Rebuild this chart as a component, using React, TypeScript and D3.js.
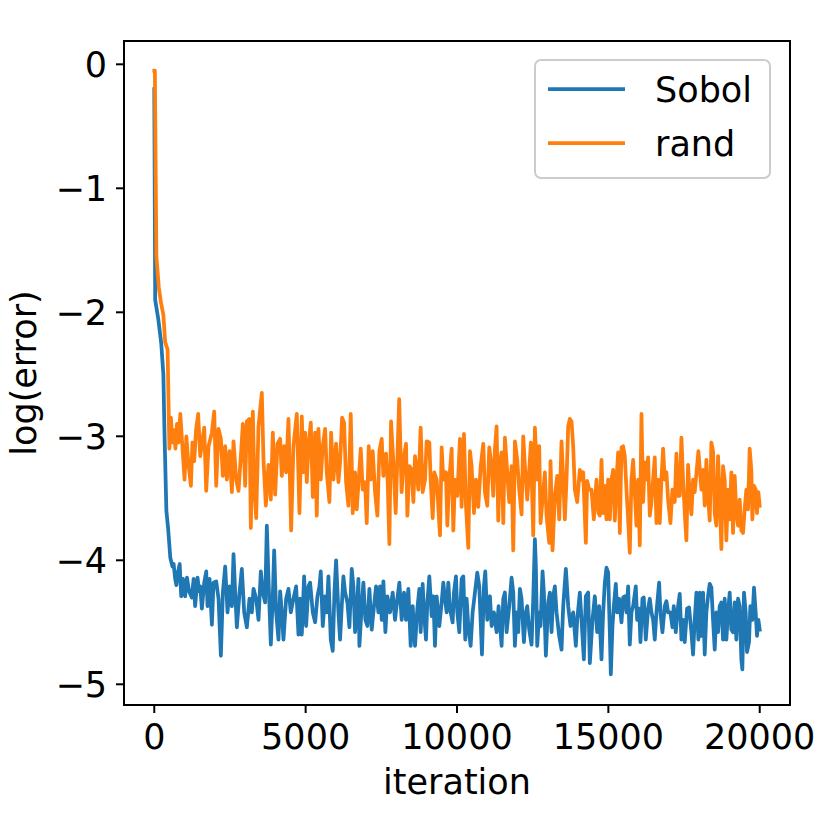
import React from 'react';
import * as d3 from 'd3';

// [iteration, log(error)]
const sobol: [number, number][] = [
  [0,-0.20],[30,-1.90],[130,-2.05],[230,-2.25],[300,-2.50],[340,-3.00],[400,-3.60],[460,-3.75],[530,-3.98],[600,-4.05],
  [640,-4.03],[690,-4.15],[730,-4.20],[780,-4.10],[840,-4.03],[890,-4.29],[950,-4.15],[1020,-4.29],[1080,-4.14],[1150,-4.25],
  [1240,-4.30],[1300,-4.15],[1350,-4.37],[1430,-4.14],[1480,-4.25],
  [1518,-4.21],[1573,-4.39],[1650,-4.18],[1716,-4.09],[1760,-4.37],[1826,-4.15],[1903,-4.52],[1958,-4.18],[2046,-4.17],[2123,-4.31],
  [2200,-4.77],[2266,-4.26],[2343,-4.05],[2420,-4.42],[2486,-4.21],[2563,-4.37],[2618,-3.95],[2673,-4.26],[2728,-4.54],[2816,-4.26],
  [2893,-4.07],[2970,-4.42],[3058,-4.54],[3146,-4.31],[3223,-4.42],[3278,-4.23],[3366,-4.31],[3443,-4.48],[3520,-4.09],[3586,-4.26],
  [3663,-4.34],[3718,-3.72],[3773,-4.15],[3850,-4.68],[3916,-4.29],[3960,-3.92],[4026,-4.42],[4103,-4.64],[4158,-4.25],[4213,-4.42],
  [4268,-4.64],[4356,-4.31],[4433,-4.23],[4510,-4.42],[4598,-4.31],[4686,-4.21],[4763,-4.60],
  [4818,-4.31],[4873,-4.60],[4950,-4.13],[5016,-4.53],[5093,-4.21],[5148,-4.18],[5236,-4.42],[5313,-4.50],[5390,-4.29],[5456,-4.21],
  [5500,-4.09],[5566,-4.53],[5643,-4.29],[5698,-4.42],[5753,-4.13],[5830,-4.64],[5896,-4.73],[5951,-4.26],[6006,-4.00],[6083,-4.42],
  [6138,-4.64],[6193,-4.37],[6248,-4.13],[6303,-4.26],[6380,-4.34],[6446,-4.54],[6523,-4.07],[6578,-4.21],[6633,-4.58],[6688,-4.42],
  [6743,-4.15],[6776,-4.69],[6853,-4.37],[6908,-4.18],[6974,-4.48],[7040,-4.53],[7106,-4.23],[7183,-4.56],[7238,-4.42],[7326,-4.21],
  [7403,-4.42],[7458,-4.21],[7513,-4.48],[7568,-4.17],[7634,-4.58],[7700,-4.29],[7788,-4.42],[7876,-4.26],[7953,-4.48],[8030,-4.31],
  [8096,-4.18],[8173,-4.48],[8250,-4.26],[8316,-4.48],[8393,-4.23],[8470,-4.69],[8536,-4.37],[8613,-4.69],[8690,-4.39],[8756,-4.23],
  [8800,-4.58],[8866,-4.19],[8910,-4.42],[8976,-4.64],[9020,-4.34],[9086,-4.13],[9163,-4.45],[9218,-4.29],[9273,-4.69],[9328,-4.29],
  [9416,-4.53],[9493,-4.34],[9548,-4.18],[9603,-4.31],[9658,-4.42],[9713,-4.18],[9768,-4.39],[9856,-4.50],[9900,-4.26],[9966,-4.13],
  [10010,-4.42],[10076,-4.58],[10153,-4.15],[10208,-4.13],[10274,-4.64],[10318,-4.31],[10373,-4.53],[10450,-4.69],[10516,-4.42],[10593,-4.26],
  [10670,-4.10],[10736,-4.21],[10780,-4.48],[10824,-4.76],[10890,-4.21],[10934,-4.09],[11000,-4.48],[11088,-4.29],[11143,-4.53],[11220,-4.42],
  [11308,-4.58],[11374,-4.37],[11473,-4.69],[11528,-4.31],[11583,-4.26],[11638,-4.58],[11726,-4.37],[11803,-4.14],[11858,-4.26],[11913,-4.69],
  [11968,-4.42],[12023,-4.58],[12078,-4.23],[12133,-4.31],[12210,-4.66],[12276,-4.42],[12320,-4.37],[12386,-4.56],[12463,-4.68],[12518,-4.31],
  [12573,-3.83],[12606,-4.05],[12650,-4.69],[12716,-4.42],[12760,-4.53],[12826,-4.09],[12870,-4.26],[12936,-4.77],[13013,-4.34],[13068,-4.26],
  [13123,-4.58],[13178,-4.29],[13233,-4.21],[13288,-4.42],[13376,-4.61],[13453,-4.72],[13508,-4.37],[13596,-4.07],[13673,-4.37],[13750,-4.53],
  [13838,-4.42],[13926,-4.69],[13970,-4.48],[14058,-4.26],[14113,-4.48],[14190,-4.80],[14256,-4.29],[14333,-4.26],[14388,-4.83],[14476,-4.48],
  [14553,-4.29],[14630,-4.58],[14696,-4.37],[14773,-4.80],[14828,-4.42],[14883,-4.18],[14938,-4.06],[14993,-4.10],[15048,-4.58],[15081,-4.92],
  [15136,-4.53],[15180,-4.37],[15246,-4.19],[15290,-4.42],[15356,-4.31],[15433,-4.50],[15488,-4.30],[15543,-4.29],[15598,-4.42],[15653,-4.21],
  [15708,-4.68],[15763,-4.42],[15818,-4.37],[15906,-4.21],[15950,-4.48],[16016,-4.39],[16060,-4.66],[16126,-4.31],[16170,-4.30],[16236,-4.64],
  [16313,-4.39],[16368,-4.31],[16423,-4.42],[16478,-4.48],[16533,-4.64],[16588,-4.42],[16676,-4.18],[16720,-4.42],[16786,-4.58],[16863,-4.37],
  [16918,-4.33],[16973,-4.42],[17050,-4.42],[17116,-4.54],[17160,-4.37],[17226,-4.58],[17303,-4.37],[17358,-4.27],[17413,-4.64],[17468,-4.48],
  [17523,-4.66],[17600,-4.39],[17666,-4.38],[17743,-4.58],[17798,-4.76],[17853,-4.48],[17908,-4.26],[17974,-4.64],[18018,-4.26],[18073,-4.61],
  [18128,-4.26],[18183,-4.76],[18238,-4.42],[18293,-4.29],[18348,-4.19],[18403,-4.22],[18458,-4.48],[18513,-4.72],[18568,-4.42],[18623,-4.58],
  [18678,-4.37],[18733,-4.34],[18788,-4.64],[18843,-4.31],[18898,-4.64],[18953,-4.42],[19008,-4.26],[19063,-4.56],[19118,-4.58],[19173,-4.34],
  [19228,-4.64],[19283,-4.31],[19338,-4.37],[19393,-4.80],[19426,-4.88],[19481,-4.26],[19536,-4.42],[19580,-4.74],[19646,-4.66],[19690,-4.37],
  [19756,-4.48],[19811,-4.22],[19866,-4.42],[19910,-4.61],[19954,-4.48],[20000,-4.56],
];

const rand: [number, number][] = [
  [0,-0.05],[20,-0.05],[70,-1.55],[150,-1.80],[220,-1.92],[300,-2.02],[360,-2.24],[440,-2.30],[480,-2.85],[500,-3.10],
  [550,-2.85],[600,-3.05],[650,-2.95],[700,-3.10],[750,-2.90],[800,-3.05],[860,-2.82],[920,-3.05],[1000,-3.35],[1060,-3.00],
  [1120,-3.20],[1210,-3.40],[1260,-3.05],[1320,-3.20],[1380,-2.95],[1450,-2.82],
  [1518,-3.16],[1650,-2.93],[1716,-3.44],[1793,-3.08],[1903,-2.97],[1980,-2.80],[2046,-3.40],[2123,-2.94],[2200,-3.02],[2266,-3.32],
  [2343,-3.08],[2398,-3.35],[2486,-3.12],[2563,-3.45],[2618,-3.04],[2706,-3.35],[2783,-3.44],[2860,-3.16],[2926,-2.90],[3003,-3.40],
  [3058,-2.88],[3146,-2.86],[3190,-3.74],[3256,-2.80],[3311,-3.43],[3366,-3.66],[3443,-2.92],[3553,-2.65],[3608,-3.19],[3685,-3.56],
  [3773,-3.23],[3850,-3.51],[3916,-2.97],[3993,-3.47],[4070,-3.06],[4158,-3.02],[4213,-3.32],[4290,-3.08],[4356,-3.29],[4433,-2.86],
  [4521,-3.76],[4598,-3.08],[4708,-2.82],[4796,-3.62],
  [4873,-2.84],[4928,-3.29],[4983,-2.97],[5038,-3.37],[5093,-3.08],[5170,-2.89],[5236,-3.49],[5313,-2.97],[5368,-3.64],[5423,-2.94],
  [5500,-3.35],[5566,-3.08],[5643,-2.94],[5698,-3.29],[5786,-3.53],[5841,-2.97],[5918,-3.35],[6006,-3.06],[6083,-3.37],[6138,-3.21],
  [6204,-2.85],[6270,-2.89],[6336,-3.37],[6413,-3.56],[6490,-2.82],[6556,-3.62],[6633,-3.29],[6688,-3.59],[6754,-3.35],[6820,-3.10],
  [6886,-3.43],[6963,-3.37],[7018,-3.70],[7084,-3.08],[7150,-3.35],[7216,-3.12],[7293,-3.45],[7370,-3.64],[7436,-3.12],[7513,-3.02],
  [7568,-3.32],[7656,-3.14],[7711,-3.37],[7766,-3.87],[7821,-2.88],[7898,-3.21],[7975,-3.62],[8090,-2.70],[8170,-3.45],
  [8250,-3.16],[8316,-3.06],[8360,-3.64],[8426,-3.24],[8503,-3.27],[8558,-3.53],[8613,-3.16],[8668,-3.27],[8723,-3.43],[8800,-2.93],
  [8866,-3.45],[8943,-3.35],[8998,-3.04],[9086,-3.05],[9130,-3.35],[9196,-3.66],[9251,-3.29],[9328,-3.35],[9438,-3.80],[9493,-3.09],
  [9548,-3.35],[9636,-3.29],[9680,-3.72],[9746,-3.35],[9823,-3.10],[9878,-3.76],[9933,-3.35],[10010,-3.48],[10098,-3.02],[10153,-3.57],
  [10230,-2.98],[10296,-3.56],[10373,-3.90],[10428,-3.12],[10483,-3.24],[10560,-3.62],[10626,-3.35],[10703,-3.57],[10780,-3.25],[10868,-3.06],
  [10923,-3.45],[11000,-3.56],[11066,-3.09],[11143,-3.24],[11198,-3.48],[11253,-3.10],[11308,-2.92],[11363,-3.68],[11418,-3.21],
  [11473,-3.13],[11528,-3.70],[11583,-3.01],[11660,-3.29],[11726,-3.53],[11803,-3.24],[11858,-3.92],[11913,-3.04],[11990,-3.19],[12056,-3.43],
  [12133,-3.63],[12188,-3.00],[12243,-3.24],[12320,-3.51],[12386,-3.27],[12441,-3.05],[12518,-3.80],[12573,-2.93],[12650,-3.35],[12716,-3.08],
  [12760,-3.70],[12826,-3.51],[12903,-3.29],[12958,-3.64],[13046,-3.86],[13090,-3.20],[13156,-3.92],[13233,-3.48],[13310,-3.32],[13376,-3.67],
  [13453,-3.04],[13508,-3.35],[13563,-3.67],[13618,-3.35],[13673,-2.92],[13728,-2.86],[13783,-2.88],[13838,-3.08],[13893,-3.43],[13970,-3.53],
  [14058,-3.27],[14113,-3.35],[14168,-3.29],[14256,-3.86],[14300,-3.36],[14366,-3.43],[14443,-3.43],[14520,-3.67],[14608,-3.35],[14674,-3.62],
  [14718,-3.64],[14773,-3.19],[14828,-3.62],[14883,-3.40],[14938,-3.67],[14993,-3.35],[15048,-3.67],[15103,-3.35],[15158,-3.27],[15213,-3.68],
  [15268,-3.35],[15323,-3.13],[15378,-3.78],[15433,-3.09],[15488,-3.08],[15543,-3.16],[15598,-3.43],[15653,-3.67],[15708,-3.94],[15763,-3.35],
  [15818,-3.19],[15873,-3.45],[15928,-3.72],[15983,-3.35],[16038,-3.88],[16093,-2.82],[16148,-3.53],[16203,-3.21],[16258,-3.35],[16313,-3.17],
  [16368,-3.64],[16423,-3.53],[16478,-3.35],[16533,-3.17],[16588,-3.70],[16643,-3.35],[16698,-3.70],[16753,-3.35],[16808,-3.10],[16863,-3.35],
  [16918,-3.29],[16973,-3.51],[17050,-3.70],[17116,-3.43],[17193,-3.53],[17248,-3.14],[17303,-3.48],[17358,-3.48],[17413,-3.01],[17468,-3.35],
  [17523,-3.62],[17578,-3.84],[17633,-3.23],[17688,-3.48],[17743,-3.63],[17798,-3.35],[17853,-3.45],[17930,-3.24],[17974,-3.12],
  [18073,-3.43],[18128,-3.27],[18183,-3.56],[18238,-3.19],[18293,-3.48],[18348,-3.68],[18403,-3.05],[18458,-3.12],[18513,-3.62],[18568,-3.72],
  [18623,-3.16],[18678,-3.48],[18733,-3.91],[18788,-3.24],[18843,-3.35],[18898,-3.84],[18953,-3.43],[19008,-3.67],[19063,-3.29],[19118,-3.78],
  [19173,-3.32],[19228,-3.62],[19283,-3.72],[19338,-3.51],[19393,-3.76],[19448,-3.78],[19503,-3.59],[19558,-3.43],[19613,-3.59],[19668,-3.10],
  [19723,-3.27],[19756,-3.67],[19811,-3.40],[19866,-3.43],[19910,-3.62],[19954,-3.45],[20000,-3.56],
];

const xTicks = [0, 5000, 10000, 15000, 20000];
const yTicks = [0, -1, -2, -3, -4, -5];
const seriesNames = ['Sobol', 'rand'];

const W = 830;
const H = 830;
const left = 124;
const right = 790;
const top = 41;
const bottom = 705;
const font = 'DejaVu Sans, sans-serif';
const fs = 35;
const colors = ['#1f77b4', '#ff7f0e'];

export default function App() {
  const x = d3.scaleLinear().domain([-1000, 21000]).range([left, right]);
  const y = d3.scaleLinear().domain([-5.167, 0.188]).range([bottom, top]);
  const line = d3.line<[number, number]>().x(d => x(d[0])).y(d => y(d[1]));
  const series = [sobol, rand];

  return (
    <svg width={W} height={H} style={{ position: 'absolute', left: 0, top: 0, background: '#fff' }}>
      <defs>
        <clipPath id="plot">
          <rect x={left} y={top} width={right - left} height={bottom - top} />
        </clipPath>
      </defs>
      <g clipPath="url(#plot)">
        {series.map((s, i) => (
          <path key={i} d={line(s) ?? ''} fill="none" stroke={colors[i]} strokeWidth={3.75} strokeLinejoin="round" strokeLinecap="square" />
        ))}
      </g>
      <rect x={left} y={top} width={right - left} height={bottom - top} fill="none" stroke="#000" strokeWidth={2} />
      {xTicks.map(t => (
        <g key={t}>
          <line x1={x(t)} x2={x(t)} y1={bottom} y2={bottom + 8} stroke="#000" strokeWidth={2} />
          <text x={x(t)} y={bottom + 44} textAnchor="middle" fontFamily={font} fontSize={fs}>{t}</text>
        </g>
      ))}
      {yTicks.map(t => (
        <g key={t}>
          <line x1={left - 8} x2={left} y1={y(t)} y2={y(t)} stroke="#000" strokeWidth={2} />
          <text x={left - 17} y={y(t)} dy="0.36em" textAnchor="end" fontFamily={font} fontSize={fs}>
            {t < 0 ? `\u2212${Math.abs(t)}` : t}
          </text>
        </g>
      ))}
      <text x={(left + right) / 2} y={794} textAnchor="middle" fontFamily={font} fontSize={fs}>iteration</text>
      <text transform={`translate(36,${(top + bottom) / 2}) rotate(-90)`} textAnchor="middle" fontFamily={font} fontSize={fs}>log(error)</text>
      <rect x={535} y={60} width={235} height={118} rx={6} fill="#fff" fillOpacity={0.8} stroke="#ccc" strokeWidth={2} />
      {seriesNames.map((n, i) => (
        <g key={n}>
          <line x1={548} x2={625} y1={89 + i * 54} y2={89 + i * 54} stroke={colors[i]} strokeWidth={3.75} />
          <text x={655} y={89 + i * 54} dy="0.36em" fontFamily={font} fontSize={fs}>{n}</text>
        </g>
      ))}
    </svg>
  );
}
